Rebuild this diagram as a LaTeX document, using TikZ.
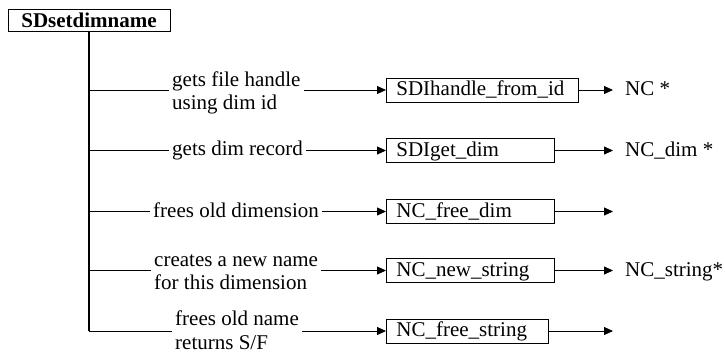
\documentclass[tikz,border=0pt]{standalone}
\usepackage{fontspec}
\setmainfont{Liberation Serif}
\usetikzlibrary{arrows.meta}
\begin{document}
\begin{tikzpicture}[x=1pt,y=-1pt, font=\fontsize{21}{23.5}\selectfont,
  fn/.style={draw, line width=0.8pt, inner xsep=10pt, inner ysep=0pt, text height=15.5pt, text depth=4.5pt, minimum height=24pt, align=left, anchor=west},
  lbl/.style={inner xsep=3pt, inner ysep=0pt, align=left, anchor=west},
  res/.style={inner xsep=12pt, inner ysep=0pt, text height=15.5pt, text depth=4.5pt, anchor=west},
  br/.style={line width=0.8pt},
  trunk/.style={line width=1.2pt},
  arr/.style={line width=0.8pt, -{Triangle[length=9pt,width=8pt]}}]
\useasboundingbox (0,0) rectangle (725,356);
% title
\node[draw, line width=1pt, minimum width=162pt, minimum height=22.5pt, inner sep=0pt,
  font=\fontsize{21}{23.5}\selectfont\bfseries] (top) at (89,20.5) {SDsetdimname};
% trunk points
\coordinate (t1) at (89,90);
\coordinate (t2) at (89,150.5);
\coordinate (t3) at (89,211.5);
\coordinate (t4) at (89,270.5);
\coordinate (t5) at (89,331);
\draw[trunk] (top.south) -- (t5);
% function boxes
\node[fn, text width=172pt] (b1) at (386,90) {SDIhandle\_from\_id};
\node[fn, text width=148pt] (b2) at (386,150.5) {SDIget\_dim};
\node[fn, text width=148pt] (b3) at (386,211.5) {NC\_free\_dim};
\node[fn, text width=148pt] (b4) at (386,270.5) {NC\_new\_string};
\node[fn, text width=142pt] (b5) at (386,331) {NC\_free\_string};
% labels
\node[lbl] (l1) at (169,93) {gets file handle\\using dim id};
\node[lbl] (l2) at (169,150.5) {gets dim record};
\node[lbl] (l3) at (150,210) {frees old dimension};
\node[lbl] (l4) at (151,272) {creates a new name\\for this dimension};
\node[lbl] (l5) at (172,330) {frees old name\\returns S/F};
% results
\node[res] (r1) at (613,90) {NC *};
\node[res] (r2) at (613,150.5) {NC\_dim *};
\coordinate (r3) at (613,211.5);
\node[res] (r4) at (613,270.5) {NC\_string*};
\coordinate (r5) at (613,331);
% connectors
\foreach \i in {1,...,5}{
  \draw[br] (t\i) -- (t\i -| l\i.west);
  \draw[arr] (l\i.east |- t\i) -- (b\i.west);
}
\draw[arr] (b1.east) -- (r1.west);
\draw[arr] (b2.east) -- (r2.west);
\draw[arr] (b3.east) -- (r3);
\draw[arr] (b4.east) -- (r4.west);
\draw[arr] (b5.east) -- (r5);
\end{tikzpicture}
\end{document}
